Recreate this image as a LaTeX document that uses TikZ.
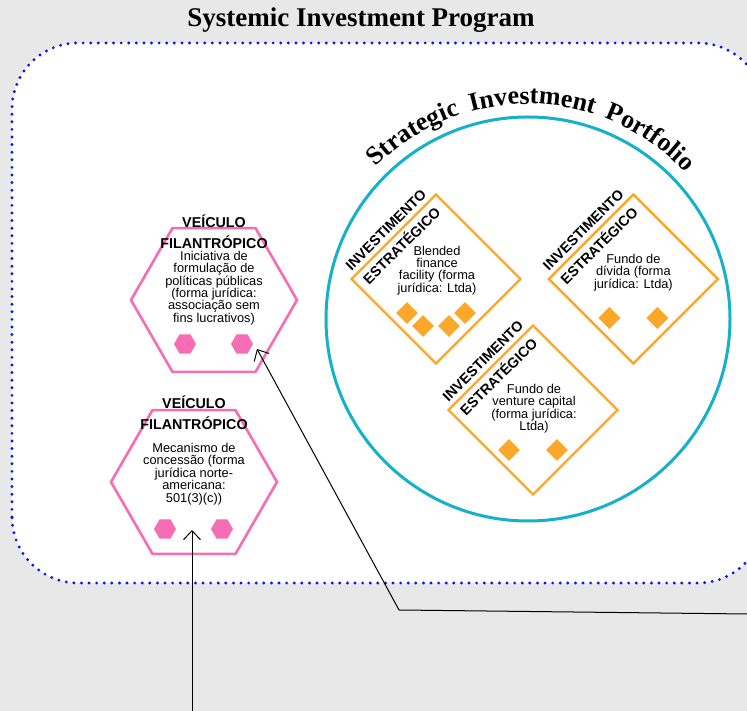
\documentclass[tikz,border=0pt]{standalone}
\usepackage{fontspec}
\setmainfont{Liberation Sans}
\newfontfamily\headfont{Liberation Serif}
\usepackage{tikz}
\usetikzlibrary{shapes.geometric, arrows.meta, positioning, calc, decorations.text}
\definecolor{sipblue}{HTML}{0A14F0}
\definecolor{sipgray}{HTML}{E8E8E8}
\definecolor{sippink}{HTML}{F76DB5}
\definecolor{siporange}{HTML}{FBA82A}
\definecolor{sipcyan}{HTML}{14B2C8}

\begin{document}
\begin{tikzpicture}[
    x=1pt, y=1pt,
    program/.style={draw=sipblue, fill=white, line width=3.2pt, line cap=round, dash pattern=on 0pt off 7.6pt, rounded corners=66pt},
    portfolio/.style={circle, draw=sipcyan, line width=3pt, minimum size=404pt, inner sep=0pt},
    vehicle/.style={regular polygon, regular polygon sides=6, draw=sippink, line width=2.6pt, minimum size=166pt, inner sep=0pt},
    hexdot/.style={regular polygon, regular polygon sides=6, fill=sippink, minimum size=22pt, inner sep=0pt},
    invest/.style={diamond, draw=siporange, line width=2.4pt, minimum width=170pt, minimum height=170pt, inner sep=0pt},
    chip/.style={diamond, fill=siporange, minimum width=22pt, minimum height=22pt, inner sep=0pt},
    tag/.style={font=\bfseries\fontsize{14.3}{15}\selectfont, inner sep=0pt},
    body/.style={align=center, font=\fontsize{12.8}{12.4}\selectfont, inner sep=0pt},
    arrow/.style={-{Straight Barb[length=9pt, width=17pt]}, line width=1pt, black}
]

\useasboundingbox (0,0) rectangle (747,711);
\clip (0,0) rectangle (747,711);
\fill[sipgray] (0,0) rectangle (747,711);

\node[font=\headfont\bfseries\fontsize{27}{30}\selectfont] (title) at (361,691) {Systemic Investment Program};
\draw[program] (12,128) rectangle (764,668);

\node[portfolio] (portfolio) at (528,392) {};
\path[decorate, decoration={text along path, text align=fit to path stretching spaces,
    text={|\headfont\bfseries\fontsize{26}{28}\selectfont|Strategic Investment Portfolio}}]
    (portfolio.center) ++(135:215) arc[start angle=135, end angle=43, radius=215];

\node[vehicle] (policy) at (214,411) {};
\node[hexdot] (policy-l) at ($(policy.center)+(-29,-44)$) {};
\node[hexdot] (policy-r) at ($(policy.center)+(28,-44)$) {};
\node[tag] (policy-t1) at ($(policy.center)+(0,79)$) {VEÍCULO};
\node[tag] (policy-t2) at ($(policy.center)+(0,58)$) {FILANTRÓPICO};
\node[body] (policy-txt) at ($(policy.center)+(0,12)$) {Iniciativa de\\formulação de\\políticas públicas\\(forma jurídica:\\associação sem\\fins lucrativos)};

\node[vehicle] (grant) at (194,229) {};
\node[hexdot] (grant-l) at ($(grant.center)+(-29,-47)$) {};
\node[hexdot] (grant-r) at ($(grant.center)+(28,-47)$) {};
\node[tag] (grant-t1) at ($(grant.center)+(0,80)$) {VEÍCULO};
\node[tag] (grant-t2) at ($(grant.center)+(0,59)$) {FILANTRÓPICO};
\node[body] (grant-txt) at ($(grant.center)+(0,8)$) {Mecanismo de\\concessão (forma\\jurídica norte-\\americana:\\501(3)(c))};

\node[invest] (blended) at (436,432) {};
\node[invest, right=25pt of blended] (debt) {};
\node[invest] (venture) at (533,301) {};

\node[chip] (blended-c1) at ($(blended.center)+(-29,-34)$) {};
\node[chip] (blended-c2) at ($(blended.center)+(-13,-47)$) {};
\node[chip] (blended-c3) at ($(blended.center)+(13,-47)$) {};
\node[chip] (blended-c4) at ($(blended.center)+(29,-34)$) {};
\node[chip] (debt-c1) at ($(debt.center)+(-24,-39)$) {};
\node[chip] (debt-c2) at ($(debt.center)+(24,-39)$) {};
\node[chip] (venture-c1) at ($(venture.center)+(-24,-40)$) {};
\node[chip] (venture-c2) at ($(venture.center)+(24,-40)$) {};

\node[tag, rotate=45] (blended-t1) at ($(blended.north west)+(-7,6)$) {INVESTIMENTO};
\node[tag, rotate=45] (blended-t2) at ($(blended.north west)+(8,-9)$) {ESTRATÉGICO};
\node[tag, rotate=45] (debt-t1) at ($(debt.north west)+(-7,6)$) {INVESTIMENTO};
\node[tag, rotate=45] (debt-t2) at ($(debt.north west)+(8,-9)$) {ESTRATÉGICO};
\node[tag, rotate=45] (venture-t1) at ($(venture.north west)+(-7,6)$) {INVESTIMENTO};
\node[tag, rotate=45] (venture-t2) at ($(venture.north west)+(8,-9)$) {ESTRATÉGICO};

\node[body] (blended-txt) at ($(blended.center)+(1,8.5)$) {Blended\\finance\\facility (forma\\jurídica: Ltda)};
\node[body] (debt-txt) at ($(debt.center)+(0,6.5)$) {Fundo de\\dívida (forma\\jurídica: Ltda)};
\node[body] (venture-txt) at ($(venture.center)+(1,1.5)$) {Fundo de\\venture capital\\(forma jurídica:\\Ltda)};

\coordinate (src-a) at (192,0);
\coordinate (tip-a) at ($(grant.center)+(-2,-48)$);
\coordinate (src-b) at (747,97);
\coordinate (bend-b) at (399,101);
\coordinate (tip-b) at ($(policy.center)+(43,-49)$);

\draw[arrow] (src-a) -- (tip-a);
\draw[arrow] (src-b) -- (bend-b) -- (tip-b);

\end{tikzpicture}
\end{document}
